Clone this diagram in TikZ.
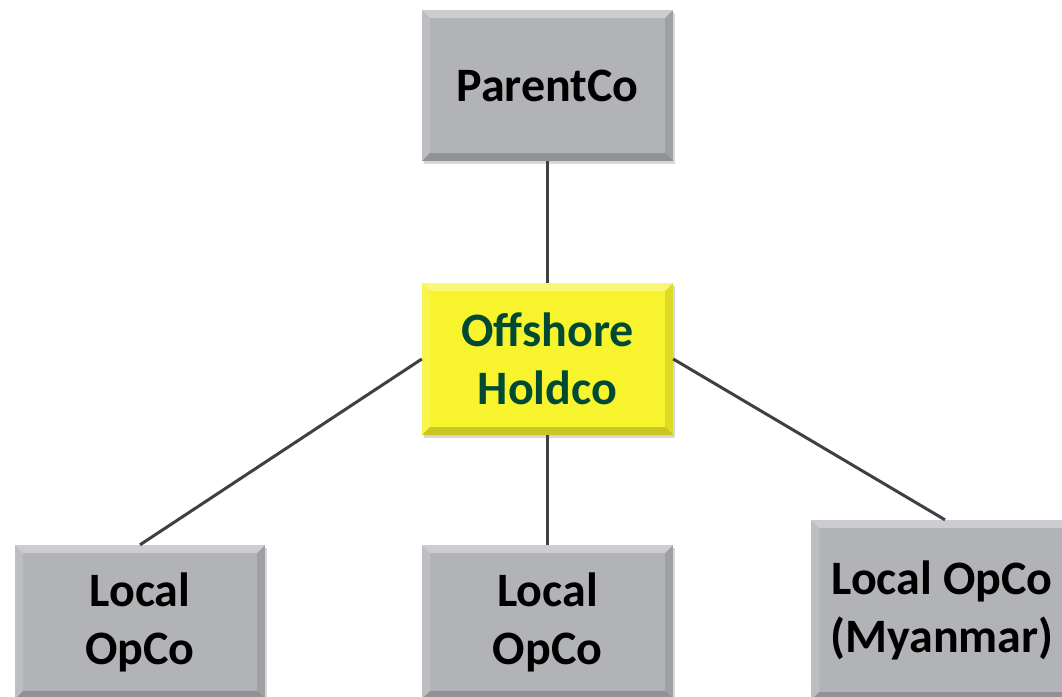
\documentclass[tikz,border=0pt]{standalone}
\usepackage{fontspec}
\setmainfont{Carlito}
\usetikzlibrary{shadows}
\definecolor{boxgray}{RGB}{178,179,183}
\definecolor{boxyellow}{RGB}{247,243,45}
\definecolor{holdgreen}{RGB}{0,74,52}
\definecolor{linegray}{RGB}{64,64,64}
\tikzset{
  bevel/.style={path picture={
    \fill[white,opacity=0.35] (path picture bounding box.north west) -- (path picture bounding box.north east) -- ([xshift=-8pt,yshift=-8pt]path picture bounding box.north east) -- ([xshift=8pt,yshift=-8pt]path picture bounding box.north west) -- cycle;
    \fill[white,opacity=0.15] (path picture bounding box.north west) -- ([xshift=8pt,yshift=-8pt]path picture bounding box.north west) -- ([xshift=8pt,yshift=8pt]path picture bounding box.south west) -- (path picture bounding box.south west) -- cycle;
    \fill[black,opacity=0.18] (path picture bounding box.south west) -- (path picture bounding box.south east) -- ([xshift=-8pt,yshift=8pt]path picture bounding box.south east) -- ([xshift=8pt,yshift=8pt]path picture bounding box.south west) -- cycle;
    \fill[black,opacity=0.10] (path picture bounding box.north east) -- ([xshift=-8pt,yshift=-8pt]path picture bounding box.north east) -- ([xshift=-8pt,yshift=8pt]path picture bounding box.south east) -- (path picture bounding box.south east) -- cycle;
  }},
  entity/.style={rectangle, fill=boxgray, bevel, inner sep=0pt, align=center,
    font=\fontsize{48}{58}\selectfont\bfseries,
    drop shadow={shadow xshift=2pt, shadow yshift=-3pt, opacity=0.3}},
  link/.style={draw=linegray, line width=3pt}
}
\begin{document}
\begin{tikzpicture}[x=1pt,y=-1pt]
\useasboundingbox (0,0) rectangle (1062,696);
\begin{scope}
\clip (0,0) rectangle (1062,696);
\node[entity, minimum width=251pt, minimum height=151pt] (parent) at (547.5,85.5) {ParentCo};
\node[entity, fill=boxyellow, text=holdgreen, minimum width=251pt, minimum height=152pt] (hold) at (547.5,359) {Offshore\\Holdco};
\node[entity, minimum width=250pt, minimum height=154pt] (opl) at (140,622) {Local\\OpCo};
\node[entity, minimum width=251pt, minimum height=154pt] (opm) at (547.5,622) {Local\\OpCo};
\node[entity, minimum width=262pt, minimum height=180pt] (opr) at (942,610) {Local OpCo\\(Myanmar)};
\end{scope}
\draw[link] (parent.south) -- (hold.north);
\draw[link] (hold.west) -- (opl.north);
\draw[link] (hold.south) -- (opm.north);
\draw[link] (hold.east) -- ([xshift=3pt]opr.north);
\end{tikzpicture}
\end{document}
